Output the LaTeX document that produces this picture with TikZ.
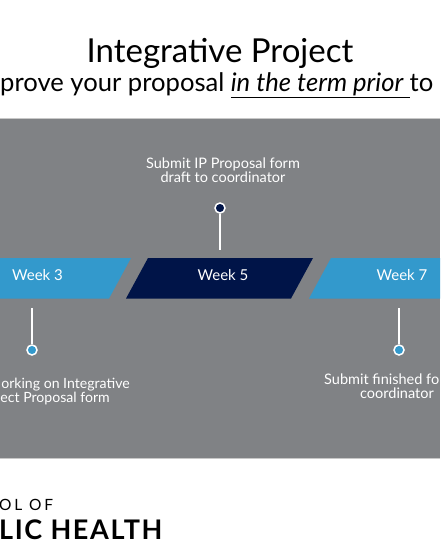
\documentclass[tikz,border=0pt]{standalone}
\usepackage{fontspec}
\setmainfont{Lato}
\newfontfamily\footA[LetterSpace=18]{Lato}
\newfontfamily\footB[LetterSpace=6]{Lato}
\definecolor{panelgray}{RGB}{128,130,133}
\definecolor{edgegray}{RGB}{200,200,200}
\definecolor{skyblue}{RGB}{51,153,204}
\definecolor{navy}{RGB}{0,20,72}
\begin{document}
\begin{tikzpicture}[x=1pt,y=-1pt,
  lbl/.style={inner sep=0pt,text=white,font=\fontsize{14.5}{15}\selectfont},
  lblsm/.style={inner sep=0pt,text=white,font=\fontsize{14.1}{15}\selectfont},
  wk/.style={inner sep=0pt,text=white,font=\fontsize{15}{16}\selectfont,anchor=base},
  stem/.style={white,line width=2pt},
  dotsky/.style={circle,fill=skyblue,draw=white,line width=1.5pt,minimum size=10pt,inner sep=0pt},
  dotnavy/.style={circle,fill=navy,draw=white,line width=1.5pt,minimum size=10pt,inner sep=0pt}]
\useasboundingbox (0,0) rectangle (440,550);
\fill[white] (0,0) rectangle (440,550);
\fill[panelgray] (0,119) rectangle (440,457.5);
\draw[edgegray,line width=1pt] (0,118.5) -- (440,118.5);
\draw[edgegray,line width=1pt] (0,458) -- (440,458);
% title
\node[inner sep=0pt,anchor=base] (title) at (220,62) {\fontsize{33}{36}\selectfont Integrative Project};
\node[inner sep=0pt,anchor=base west] (sub) at (0,91) {\fontsize{25.6}{27}\selectfont prove your proposal \underline{\textit{in the term prior }}to};
% bars
\fill[skyblue] (0,258) -- (131,258) -- (109,298.5) -- (0,298.5) -- cycle;
\fill[navy] (148,258) -- (313,258) -- (291,298.5) -- (126,298.5) -- cycle;
\fill[skyblue] (331,258) -- (440,258) -- (440,298.5) -- (309,298.5) -- cycle;
\node[wk] (w3) at (37.5,280) {Week 3};
\node[wk] (w5) at (223,280) {Week 5};
\node[wk] (w7) at (402,280) {Week 7};
% stems
\coordinate (s5) at (220,250);
\coordinate (s3) at (32,308);
\coordinate (s7) at (399,308);
\node[dotnavy] (d5) at (220,208) {};
\node[dotsky] (d3) at (32,350) {};
\node[dotsky] (d7) at (399,350) {};
\draw[stem] (d5) -- (s5);
\draw[stem] (s3) -- (d3);
\draw[stem] (s7) -- (d7);
% labels
\node[lbl,anchor=base] (t5a) at (223,168) {Submit IP Proposal form};
\node[lbl,anchor=base] (t5b) at (223,182) {draft to coordinator};
\node[lblsm,anchor=base east] (t3a) at (130,388) {orking on Integrative};
\node[lblsm,anchor=base east] (t3b) at (110,402) {ect Proposal form};
\node[lbl,anchor=base west] (t7a) at (324,384) {Submit finished fo};
\node[lbl,anchor=base] (t7b) at (397,398) {coordinator};
% footer
\node[inner sep=0pt,anchor=base west] (f1) at (-1,510) {\fontsize{15.5}{16}\footA OL OF};
\node[inner sep=0pt,anchor=base west] (f2) at (-1,539) {\fontsize{27}{28}\footB\bfseries LIC HEALTH};
\end{tikzpicture}
\end{document}
